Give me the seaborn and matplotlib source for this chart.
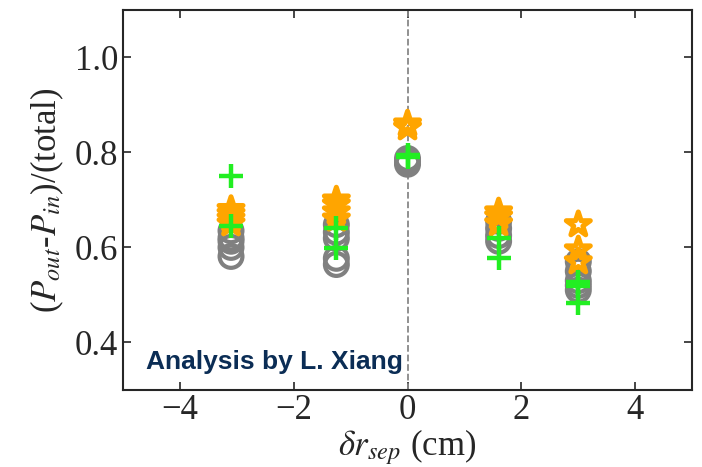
import numpy as np
import pandas as pd
import matplotlib
matplotlib.use('Agg')
import matplotlib.pyplot as plt
import seaborn as sns

# separatrix offsets (cm) and measured (P_out-P_in)/(total) for each marker set
circle_x = [-3.1, -3.1, -3.1, -3.1, -3.1,
            -1.25, -1.25, -1.25, -1.25, -1.25,
            0.0, 0.0, 0.0,
            1.6, 1.6, 1.6, 1.6,
            3.0, 3.0, 3.0, 3.0, 3.0]
circle_y = [0.635, 0.62, 0.613, 0.60, 0.581,
            0.648, 0.632, 0.619, 0.577, 0.564,
            0.787, 0.78, 0.775,
            0.655, 0.64, 0.625, 0.613,
            0.57, 0.55, 0.53, 0.52, 0.51]

star_x = [-3.1, -3.1, -3.1, -3.1,
          -1.25, -1.25, -1.25, -1.25,
          0.0, 0.0,
          1.6, 1.6, 1.6,
          3.0, 3.0, 3.0]
star_y = [0.68, 0.67, 0.66, 0.65,
          0.70, 0.69, 0.675, 0.66,
          0.86, 0.852,
          0.675, 0.665, 0.65,
          0.648, 0.595, 0.57]

plus_x = [-3.1, -3.1,
          -1.25, -1.25,
          0.0, 0.0,
          1.6, 1.6,
          3.0, 3.0, 3.0]
plus_y = [0.75, 0.645,
          0.64, 0.598,
          0.795, 0.79,
          0.62, 0.577,
          0.528, 0.518, 0.482]

circles = pd.DataFrame({'x': circle_x, 'y': circle_y})
stars = pd.DataFrame({'x': star_x, 'y': star_y})
pluses = pd.DataFrame({'x': plus_x, 'y': plus_y})

sns.set_style('ticks')
plt.rcParams['font.family'] = ['Liberation Serif', 'DejaVu Serif']
plt.rcParams['mathtext.fontset'] = 'stix'

fig = plt.figure(figsize=(7.02, 4.67), dpi=100)
ax = fig.add_axes([0.175, 0.165, 0.811, 0.814])

sns.scatterplot(data=circles, x='x', y='y', ax=ax, marker='o', s=270,
                facecolor='none', edgecolor='#808080', linewidth=3.0, zorder=2)
sns.scatterplot(data=stars, x='x', y='y', ax=ax, marker='*', s=330,
                facecolor='none', edgecolor='#ffa500', linewidth=3.6, zorder=3)
sns.scatterplot(data=pluses, x='x', y='y', ax=ax, marker='+', s=300,
                color='#22ee22', linewidth=3.2, zorder=4)

ax.axvline(0, color='#888888', linestyle='--', linewidth=1.3, zorder=1)

ax.set_xlim(-5, 5)
ax.set_ylim(0.3, 1.1)
ax.set_xticks([-4, -2, 0, 2, 4])
ax.set_yticks([0.4, 0.6, 0.8, 1.0])
ax.tick_params(direction='in', top=True, right=True, labelsize=25, length=6, width=1.2)
ax.tick_params(axis='x', pad=3)
for sp in ax.spines.values():
    sp.set_linewidth(1.5)

ax.set_xlabel(r'$\delta r_{sep}$ (cm)', fontsize=25, labelpad=0)
ax.set_ylabel(r'($P_{out}$-$P_{in}$)/(total)', fontsize=25, labelpad=6)

ax.text(0.04, 0.055, 'Analysis by L. Xiang', transform=ax.transAxes,
        fontsize=19, fontweight='bold', color='#0b2d55',
        family=['Liberation Sans', 'DejaVu Sans'], va='baseline')

fig.savefig('out.png', dpi=100)
